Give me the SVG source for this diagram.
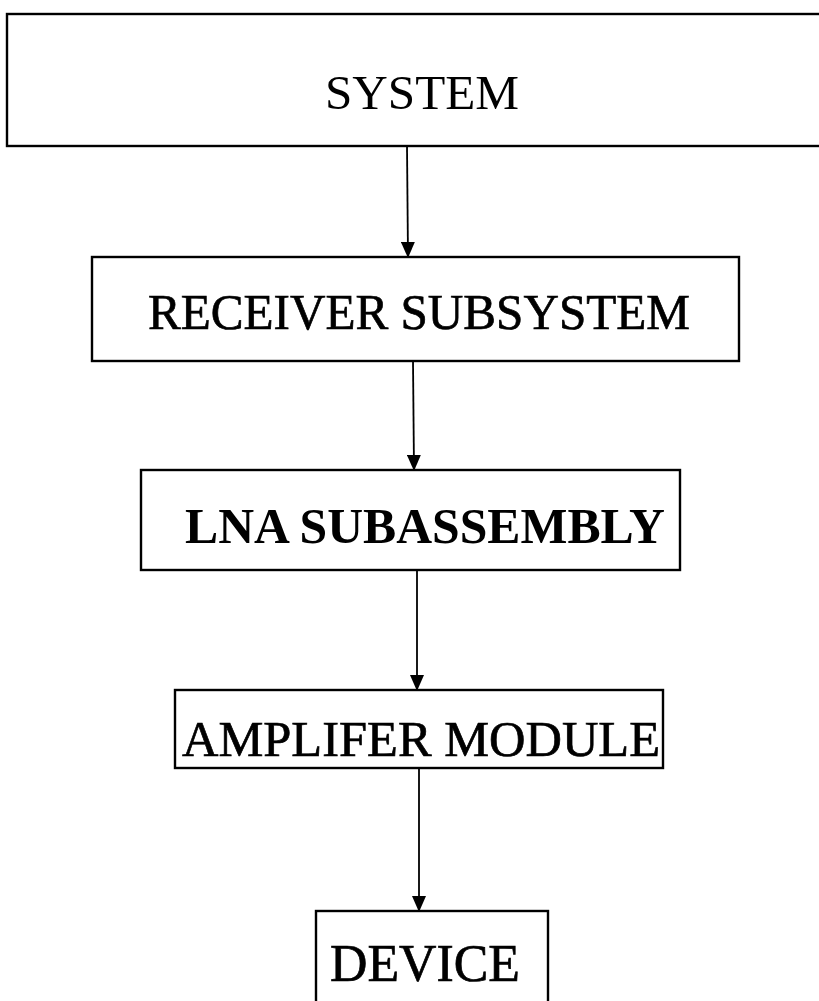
<svg xmlns="http://www.w3.org/2000/svg" width="819" height="1001" viewBox="0 0 819 1001">
<defs>
<style>
.box{fill:#fff;stroke:#000;stroke-width:2.4}
.lbl{font-family:"Liberation Serif","Times New Roman",serif;fill:#000;text-anchor:start}
.heavy{stroke:#000;stroke-width:0.7}
.conn{stroke:#000;stroke-width:1.8;fill:none}
</style>
<marker id="ah" markerWidth="16" markerHeight="14" refX="15" refY="7" orient="auto" markerUnits="userSpaceOnUse" viewBox="0 0 16 14">
<path d="M0,0 L16,7 L0,14 Z" fill="#000"/>
</marker>
</defs>
<rect width="819" height="1001" fill="#fff"/>
<g id="connectors">
<line class="conn" x1="407" y1="146" x2="408" y2="257" marker-end="url(#ah)"/>
<line class="conn" x1="413" y1="361" x2="414" y2="470" marker-end="url(#ah)"/>
<line class="conn" x1="417" y1="570" x2="417" y2="690" marker-end="url(#ah)"/>
<line class="conn" x1="419" y1="768" x2="419" y2="911" marker-end="url(#ah)"/>
</g>
<g id="system">
<rect class="box" x="7" y="14" width="820" height="132"/>
<text class="lbl" x="325" y="109" font-size="48" textLength="194" lengthAdjust="spacingAndGlyphs">SYSTEM</text>
</g>
<g id="receiver">
<rect class="box" x="92" y="257" width="647" height="104"/>
<text class="lbl heavy" x="148" y="329" font-size="51" textLength="542" lengthAdjust="spacingAndGlyphs">RECEIVER SUBSYSTEM</text>
</g>
<g id="lna">
<rect class="box" x="141" y="470" width="539" height="100"/>
<text class="lbl" x="185" y="543" font-size="51" font-weight="bold" textLength="480" lengthAdjust="spacingAndGlyphs">LNA SUBASSEMBLY</text>
</g>
<g id="amplifier">
<rect class="box" x="175" y="690" width="488" height="78"/>
<text class="lbl heavy" x="182" y="756" font-size="51" textLength="478" lengthAdjust="spacingAndGlyphs">AMPLIFER MODULE</text>
</g>
<g id="device">
<rect class="box" x="316" y="911" width="232" height="100"/>
<text class="lbl heavy" x="330" y="981" font-size="53" textLength="190" lengthAdjust="spacingAndGlyphs">DEVICE</text>
</g>
</svg>
